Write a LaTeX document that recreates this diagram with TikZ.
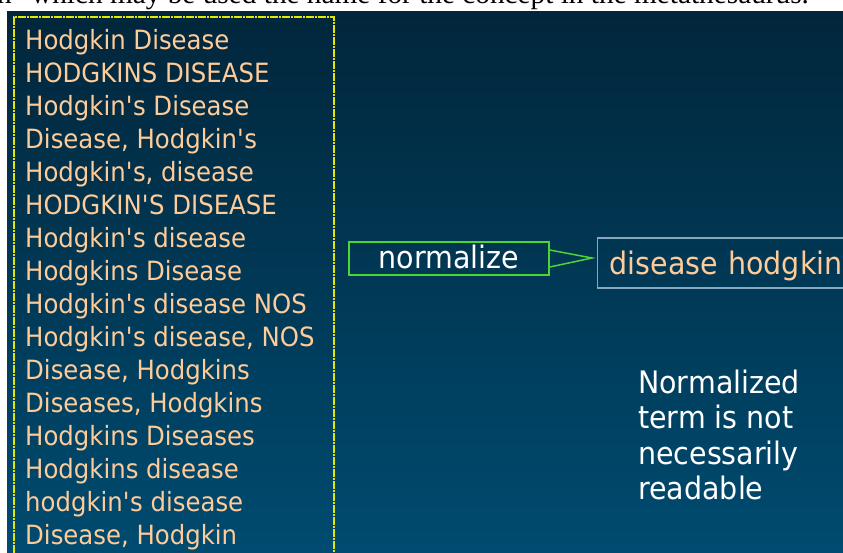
\documentclass[tikz,border=0pt]{standalone}
\usepackage{fontspec}
\setmainfont{DejaVu Sans}[FakeStretch=0.92]
\newfontfamily\captionserif{Liberation Serif}
\newcommand\apos{\textquotesingle}

\definecolor{slidetop}{HTML}{01263B}
\definecolor{slidebottom}{HTML}{004B70}
\definecolor{peach}{HTML}{FFCC99}
\definecolor{framegold}{HTML}{E2E600}
\definecolor{calloutgreen}{HTML}{4CD634}
\definecolor{resultedge}{HTML}{86A8BF}

\tikzset{
  variant/.style={anchor=base west, inner sep=0pt, text=peach,
    font=\fontsize{26.5}{33}\selectfont},
  listframe/.style={draw=framegold, line width=1.8pt,
    dash pattern=on 8pt off 1pt on 2pt off 1pt,
    minimum width=320pt, minimum height=584pt, inner sep=0pt},
  stepbox/.style={draw=calloutgreen, line width=1.5pt, text=white,
    minimum width=200pt, minimum height=33pt, inner sep=0pt,
    text height=21pt, text depth=2pt,
    font=\fontsize{31}{35}\selectfont},
  pointer/.style={draw=calloutgreen, line width=1.5pt, line join=miter},
  resultbox/.style={draw=resultedge, line width=1.2pt, text=peach,
    minimum height=50pt, inner xsep=12pt, inner ysep=0pt,
    text height=24pt, text depth=2pt,
    text width=280pt, align=left, font=\fontsize{31}{35}\selectfont},
  remark/.style={text=white, align=left, inner sep=0pt,
    font=\fontsize{31}{35.5}\selectfont},
}

\begin{document}
\begin{tikzpicture}[x=1pt,y=-1pt]
  \useasboundingbox (0,0) rectangle (843,552);
  \clip (0,0) rectangle (843,552);

  % page and slide background
  \fill[white] (0,0) rectangle (843,552);
  \shade[top color=slidetop, bottom color=slidebottom] (7,11) rectangle (843,552);

  % running text above the slide
  \node[anchor=base west, inner sep=0pt, text=black,
        font=\captionserif\fontsize{29.3}{32}\selectfont] (caption) at (-3,3)
        {n" which may be used the name for the concept in the metathesaurus.};

  % frame around the string variants
  \node[listframe, anchor=north west] (variants) at (13,16) {};

  % the string variants, one per line
  \foreach \i/\t in {
      1/{Hodgkin Disease},
      2/{HODGKINS DISEASE},
      3/{Hodgkin\apos s Disease},
      4/{Disease, Hodgkin\apos s},
      5/{Hodgkin\apos s, disease},
      6/{HODGKIN\apos S DISEASE},
      7/{Hodgkin\apos s disease},
      8/{Hodgkins Disease},
      9/{Hodgkin\apos s disease NOS},
      10/{Hodgkin\apos s disease, NOS},
      11/{Disease, Hodgkins},
      12/{Diseases, Hodgkins},
      13/{Hodgkins Diseases},
      14/{Hodgkins disease},
      15/{hodgkin\apos s disease},
      16/{Disease, Hodgkin}}
    \node[variant] (item\i) at (25, {49 + 33*(\i-1)}) {\t};

  % normalization step and its result
  \node[stepbox] (norm) at (449,258.5) {normalize};
  \node[resultbox, anchor=west] (result) at (597,263) {disease hodgkin};
  \coordinate (tip) at (592,258);
  \draw[pointer] ([yshift=8.5pt]norm.east) -- (tip) -- ([yshift=-8.5pt]norm.east);

  % remark
  \node[remark, anchor=north west] (note) at (638,369.5)
    {Normalized\\term is not\\necessarily\\readable};
\end{tikzpicture}
\end{document}
